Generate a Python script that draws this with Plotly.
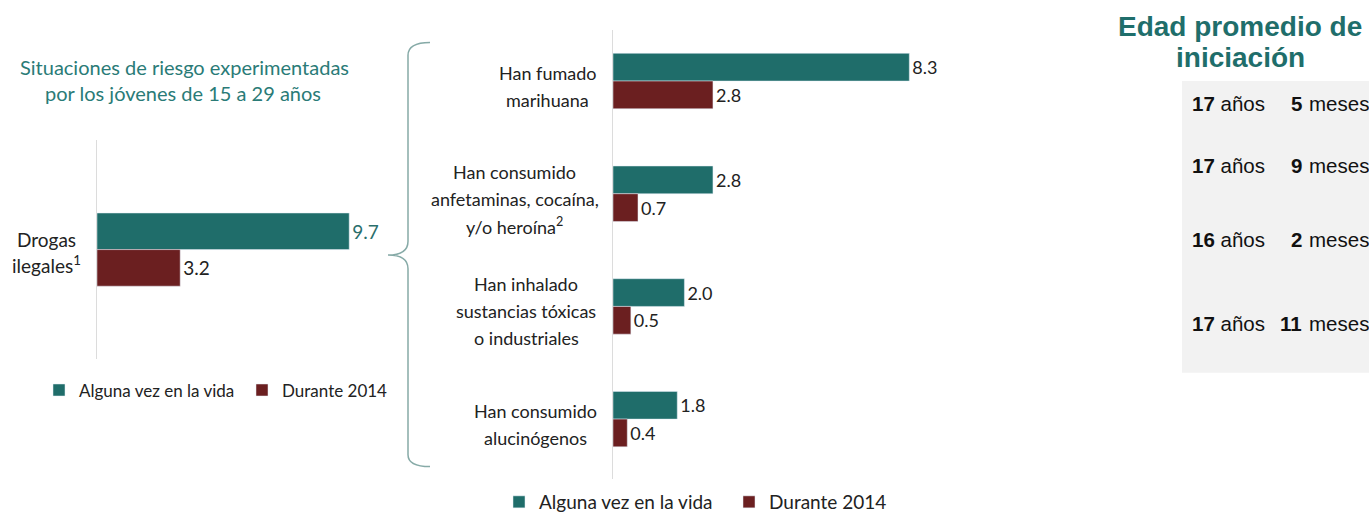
import plotly.graph_objects as go

# ---------------- data ----------------
left_categories = ["Drogas ilegales"]
left_label_text = ["Drogas<br>ilegales<sup>1</sup>"]
left_alguna = [9.7]
left_durante = [3.2]

right_categories = ["marihuana", "estimulantes", "inhalables", "alucinogenos"]
right_label_text = [
    "Han fumado<br>marihuana",
    "Han consumido<br>anfetaminas, cocaína,<br>y/o heroína<sup>2</sup>",
    "Han inhalado<br>sustancias tóxicas<br>o industriales",
    "Han consumido<br>alucinógenos",
]
right_alguna = [8.3, 2.8, 2.0, 1.8]
right_durante = [2.8, 0.7, 0.5, 0.4]

edad_anios = [17, 17, 16, 17]
edad_meses = [5, 9, 2, 11]

series_names = ["Alguna vez en la vida", "Durante 2014"]

# ---------------- style ----------------
W, H = 1369, 521
TEAL = "#1f6d6a"
RED = "#6b1f20"
TXT = "#222222"
FONT = "Lato"
ARIAL = "Liberation Sans, Arial"


def X(px):
    return px / W


def Y(py):
    return 1 - py / H


fig = go.Figure()

wl = 0.335
wr = 0.246

fig.add_trace(go.Bar(
    y=left_categories, x=left_alguna, orientation="h", name=series_names[0],
    marker_color=TEAL, width=wl, offset=-wl, xaxis="x", yaxis="y",
    text=[f"{v:.1f}" for v in left_alguna], textposition="outside",
    textfont=dict(size=19, color="#2a6f6c", family=FONT), cliponaxis=False,
    legend="legend2", hoverinfo="skip"))
fig.add_trace(go.Bar(
    y=left_categories, x=left_durante, orientation="h", name=series_names[1],
    marker_color=RED, width=wl, offset=0, xaxis="x", yaxis="y",
    text=[f"{v:.1f}" for v in left_durante], textposition="outside",
    textfont=dict(size=19, color=TXT, family=FONT), cliponaxis=False,
    legend="legend2", hoverinfo="skip"))

fig.add_trace(go.Bar(
    y=right_categories, x=right_alguna, orientation="h", name=series_names[0],
    marker_color=TEAL, width=wr, offset=-wr, xaxis="x2", yaxis="y2",
    text=[f"{v:.1f}" for v in right_alguna], textposition="outside",
    textfont=dict(size=18, color=TXT, family=FONT), cliponaxis=False,
    legend="legend", hoverinfo="skip"))
fig.add_trace(go.Bar(
    y=right_categories, x=right_durante, orientation="h", name=series_names[1],
    marker_color=RED, width=wr, offset=0, xaxis="x2", yaxis="y2",
    text=[f"{v:.1f}" for v in right_durante], textposition="outside",
    textfont=dict(size=18, color=TXT, family=FONT), cliponaxis=False,
    legend="legend", hoverinfo="skip"))

axis_common = dict(showgrid=False, zeroline=False, fixedrange=True)

fig.update_layout(
    width=W, height=H,
    margin=dict(l=0, r=0, t=0, b=0),
    paper_bgcolor="white", plot_bgcolor="white",
    barmode="overlay",
    font=dict(family=FONT, color=TXT),
    xaxis=dict(domain=[X(97), X(397)], range=[0, 300 / 26.0], visible=False,
               anchor="y", **axis_common),
    yaxis=dict(domain=[Y(363), Y(142)], type="category", range=[1.0, -1.0],
               showline=True, linecolor="#dcdcdc", linewidth=1,
               showticklabels=False, ticks="", anchor="x", **axis_common),
    xaxis2=dict(domain=[X(613), X(970)], range=[0, 10], visible=False,
                anchor="y2", **axis_common),
    yaxis2=dict(domain=[Y(485), Y(30)], type="category", range=[3.535, -0.456],
                showline=True, linecolor="#dcdcdc", linewidth=1,
                showticklabels=False, ticks="", anchor="x2", **axis_common),
    legend=dict(orientation="h", x=X(499), y=Y(508), xanchor="left", yanchor="middle",
                font=dict(size=19, color=TXT, family=FONT), itemwidth=30,
                entrywidth=185, entrywidthmode="pixels",
                bgcolor="rgba(0,0,0,0)", traceorder="normal"),
    legend2=dict(orientation="h", x=X(39), y=Y(395), xanchor="left", yanchor="middle",
                 font=dict(size=17, color=TXT, family=FONT), itemwidth=30,
                 entrywidth=158, entrywidthmode="pixels",
                 bgcolor="rgba(0,0,0,0)", traceorder="normal"),
)

ann = []
# left title
ann.append(dict(text="Situaciones de riesgo experimentadas", x=X(184), y=Y(68),
                xref="paper", yref="paper", showarrow=False, xanchor="center", yanchor="middle",
                font=dict(size=20, color="#2a7b77", family=FONT)))
ann.append(dict(text="por los jóvenes de 15 a 29 años", x=X(183), y=Y(94),
                xref="paper", yref="paper", showarrow=False, xanchor="center", yanchor="middle",
                font=dict(size=20, color="#2a7b77", family=FONT)))


# category labels (each line centered over the label block)
def label_block(lines_html, cat, yref, x_right, size, spacing, shift, block_w):
    lines = lines_html.split("<br>")
    n = len(lines)
    cx = x_right - block_w / 2.0
    for i, line in enumerate(lines):
        ys = -((i - (n - 1) / 2.0) * spacing) - shift
        ann.append(dict(text=line, x=X(cx), y=cat, xref="paper", yref=yref,
                        xanchor="center", yanchor="middle", showarrow=False,
                        yshift=ys, font=dict(size=size, color=TXT, family=FONT)))


left_block_w = [74]
for cat, lab, bw in zip(left_categories, left_label_text, left_block_w):
    label_block(lab, cat, "y", 84, 19, 25, 2, bw)

right_block_w = [97, 177, 140, 121]
right_right = [596, 603, 596, 596]
for cat, lab, bw, rr in zip(right_categories, right_label_text, right_block_w, right_right):
    label_block(lab, cat, "y2", rr, 18, 27, 5, bw)

# right panel title
ann.append(dict(text="<b>Edad promedio de</b>", x=X(1240), y=Y(27), xref="paper", yref="paper",
                showarrow=False, xanchor="center", yanchor="middle",
                font=dict(size=28, color="#1f6e6b", family=ARIAL)))
ann.append(dict(text="<b>iniciación</b>", x=X(1240), y=Y(58), xref="paper", yref="paper",
                showarrow=False, xanchor="center", yanchor="middle",
                font=dict(size=28, color="#1f6e6b", family=ARIAL)))

row_y = [105, 167, 242, 327]
for a, m, ry in zip(edad_anios, edad_meses, row_y):
    ann.append(dict(text=f"<b>{a}</b> años", x=X(1190), y=Y(ry), xref="paper", yref="paper",
                    showarrow=False, xanchor="left", yanchor="middle",
                    font=dict(size=20.5, color="#111111", family=ARIAL)))
    ann.append(dict(text=f"<b>{m}</b>", x=X(1304), y=Y(ry), xref="paper", yref="paper",
                    showarrow=False, xanchor="right", yanchor="middle",
                    font=dict(size=20.5, color="#111111", family=ARIAL)))
    ann.append(dict(text="meses", x=X(1307), y=Y(ry), xref="paper", yref="paper",
                    showarrow=False, xanchor="left", yanchor="middle",
                    font=dict(size=20.5, color="#111111", family=ARIAL)))

fig.update_layout(annotations=ann)

# gray box behind table
shapes = [dict(type="rect", xref="paper", yref="paper", x0=X(1182), x1=X(1369),
               y0=Y(377), y1=Y(82), fillcolor="#f2f2f2", line=dict(width=0), layer="below")]


# brace
def P(px, py):
    return f"{X(px):.5f},{Y(py):.5f}"


brace = ("M " + P(430, 43) + " Q " + P(408, 43) + " " + P(408, 56) +
         " L " + P(408, 244) + " Q " + P(408, 258) + " " + P(388, 258) +
         " Q " + P(408, 258) + " " + P(408, 272) +
         " L " + P(408, 460) + " Q " + P(408, 472) + " " + P(430, 472))
shapes.append(dict(type="path", xref="paper", yref="paper", path=brace,
                   line=dict(color="#86aaa7", width=1.5)))
fig.update_layout(shapes=shapes)

fig.write_html("out.html", config={"displayModeBar": False},
               post_script="document.body.style.margin='0px';")
